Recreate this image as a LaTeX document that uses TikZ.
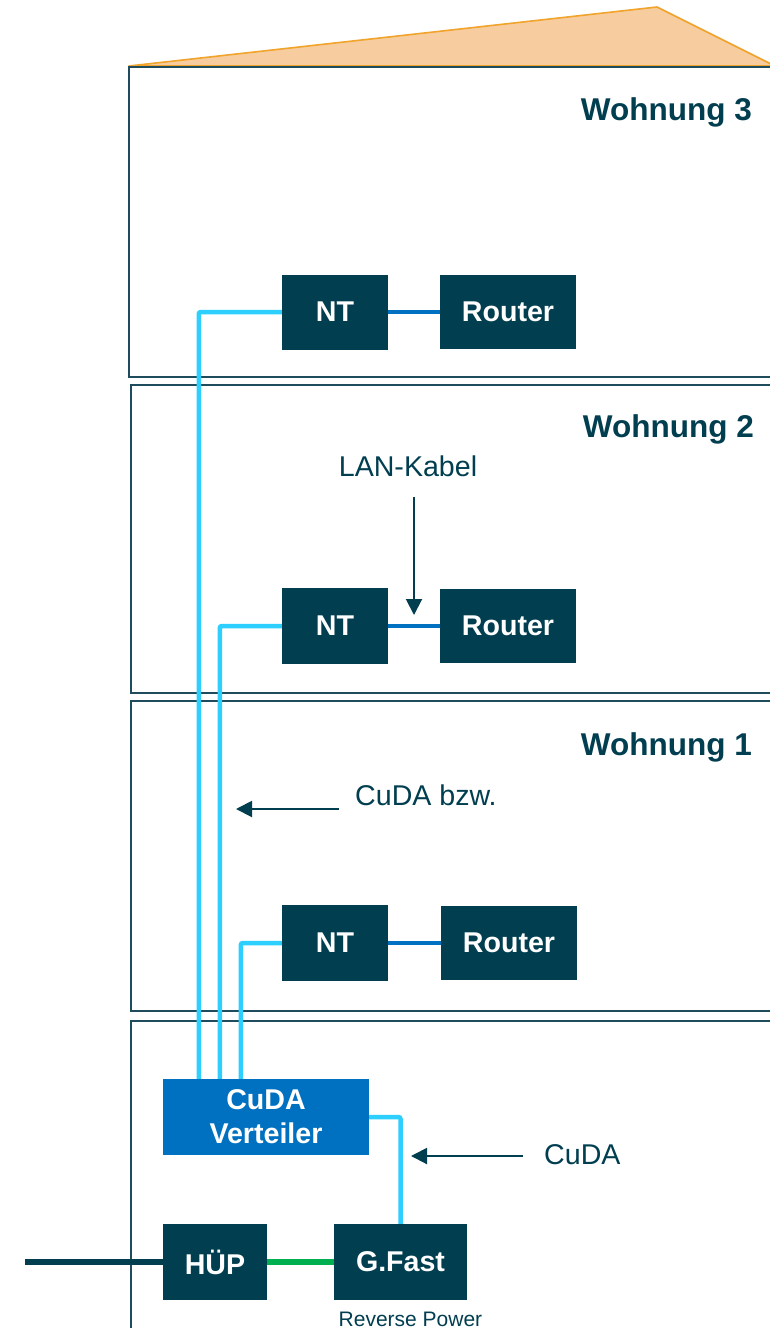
\documentclass[tikz,border=0pt]{standalone}
\usepackage{fontspec}
\setmainfont{Liberation Sans}
\usetikzlibrary{arrows.meta,positioning,calc}
\definecolor{dteal}{HTML}{003E50}
\definecolor{wall}{HTML}{1E4C5C}
\definecolor{cudab}{HTML}{2DCFFF}
\definecolor{lanb}{HTML}{0070C0}
\definecolor{gfg}{HTML}{00B050}
\definecolor{roofF}{HTML}{F7CD9F}
\definecolor{roofL}{HTML}{F0A42C}
\tikzset{
  floorbox/.style={draw=wall, line width=1.9pt},
  devbox/.style={fill=dteal, text=white, inner sep=0pt, font=\fontsize{28.6}{28.6}\selectfont\bfseries},
  cudaline/.style={draw=cudab, line width=4.5pt, rounded corners=2pt},
  lanline/.style={draw=lanb, line width=4.5pt},
  greenline/.style={draw=gfg, line width=5.5pt},
  inline/.style={draw=dteal, line width=5.5pt},
  lbl/.style={text=dteal, inner sep=0pt, font=\fontsize{28.6}{28.6}\selectfont},
  flat/.style={text=dteal, inner sep=0pt, font=\fontsize{31.5}{31.5}\selectfont\bfseries},
  pointer/.style={draw=dteal, line width=2pt, -{Triangle[length=16pt,width=16pt]}},
}
\begin{document}
\begin{tikzpicture}[x=1pt,y=-1pt]
\useasboundingbox (0,0) rectangle (770,1328);
\fill[white] (0,0) rectangle (770,1328);
\clip (0,0) rectangle (770,1328);
% roof
\filldraw[fill=roofF, draw=roofL, line width=1.6pt, line join=round] (129,66) -- (657,7) -- (775,66) -- cycle;
% floors
\draw[floorbox] (129,67) rectangle (800,377);
\draw[floorbox] (131,385) rectangle (800,693);
\draw[floorbox] (131,701) rectangle (800,1011);
\draw[floorbox] (131,1021) rectangle (800,1400);
% flat labels
\node[flat, anchor=base east] (w3) at (752,120) {Wohnung 3};
\node[flat, anchor=base east] (w2) at (754,437) {Wohnung 2};
\node[flat, anchor=base east] (w1) at (752,755) {Wohnung 1};
% devices
\node[devbox, minimum width=106pt, minimum height=75pt] (nt3) at (335,312) {NT};
\node[devbox, minimum width=136pt, minimum height=74pt] (r3) at (508,312) {Router};
\node[devbox, minimum width=106pt, minimum height=76pt] (nt2) at (335,626) {NT};
\node[devbox, minimum width=136pt, minimum height=74pt] (r2) at (508,626) {Router};
\node[devbox, minimum width=106pt, minimum height=76pt] (nt1) at (335,943) {NT};
\node[devbox, minimum width=136pt, minimum height=74pt] (r1) at (509,943) {Router};
\node[devbox, fill=lanb, minimum width=206pt, minimum height=76pt, align=center, font=\fontsize{28.6}{34}\selectfont\bfseries] (vert) at (266,1117) {CuDA\\Verteiler};
\node[devbox, minimum width=104pt, minimum height=76pt] (hup) at (215,1262) {HÜP};
\node[devbox, minimum width=133pt, minimum height=76pt] (gf) at (400.5,1262) {G.Fast};
\node[text=dteal, inner sep=0pt, font=\fontsize{21}{21}\selectfont, anchor=base] (rp) at (410.5,1326) {Reverse Power};
% cables
\draw[cudaline] (nt3.west) -| ([xshift=36pt]vert.north west);
\draw[cudaline] (nt2.west) -| ([xshift=57pt]vert.north west);
\draw[cudaline] (nt1.west) -| ([xshift=78pt]vert.north west);
\draw[cudaline] (vert.east) -| (gf.north);
\draw[lanline] (nt3.east) -- (r3.west);
\draw[lanline] (nt2.east) -- (r2.west);
\draw[lanline] (nt1.east) -- (r1.west);
\draw[greenline] (hup.east) -- (gf.west);
\coordinate (ext) at (25,1262);
\draw[inline] (ext) -- (hup.west);
% annotations
\node[lbl] (lan) at (408,466) {LAN-Kabel};
\coordinate (lanS) at (414,497);
\coordinate (lanE) at (414,615);
\draw[pointer] (lanS) -- (lanE);
\node[lbl, anchor=west] (cbzw) at (355,795) {CuDA bzw.};
\coordinate (cbS) at (339,809);
\coordinate (cbE) at (236,809);
\draw[pointer] (cbS) -- (cbE);
\node[lbl, anchor=west] (cuda) at (544,1155) {CuDA};
\coordinate (cuS) at (523,1156);
\coordinate (cuE) at (411,1156);
\draw[pointer] (cuS) -- (cuE);
\end{tikzpicture}
\end{document}
